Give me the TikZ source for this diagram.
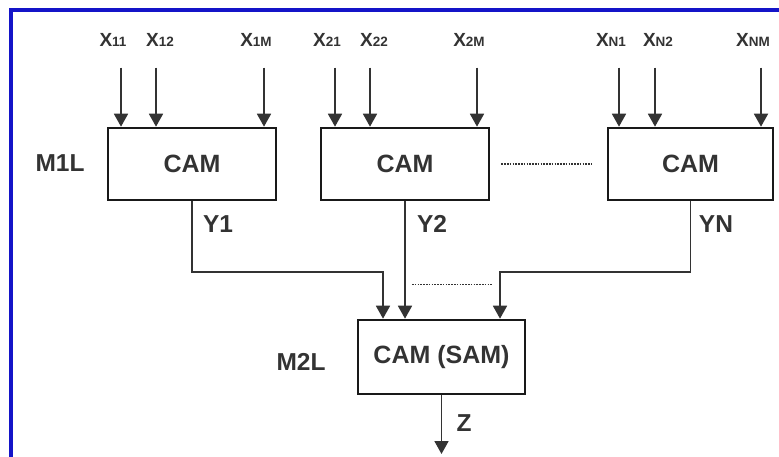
\documentclass[tikz,border=0pt]{standalone}
\usepackage{fontspec}
\setmainfont{Liberation Sans}
\usetikzlibrary{arrows.meta, positioning}

\definecolor{inkgray}{HTML}{333333}
\definecolor{framblue}{HTML}{1414C8}
\newcommand{\xsub}[1]{X{\fontsize{13.5}{13.5}\selectfont #1}}

\begin{document}
\begin{tikzpicture}[x=1pt, y=-1pt,
        cambox/.style={rectangle, draw=black!90, line width=2.6pt, minimum width=168pt, minimum height=72pt, inner sep=0pt, font=\fontsize{25}{25}\selectfont\bfseries, text=inkgray},
        xlab/.style={inner sep=0pt, font=\fontsize{19}{19}\selectfont\bfseries, text=inkgray},
        biglab/.style={inner sep=0pt, font=\fontsize{24.5}{24.5}\selectfont\bfseries, text=inkgray},
        inarrow/.style={draw=inkgray, line width=1.8pt, -{Triangle[width=14pt,length=13pt]}},
        outarrow/.style={draw=inkgray, line width=1.8pt, -{Triangle[width=14pt,length=13pt]}},
        dotline/.style={draw=inkgray, line width=1.4pt, dash pattern=on 1.6pt off 1.2pt}]

      % 1. Frame (cut off at right and bottom)
      \useasboundingbox (0,0) rectangle (779,457);
      \clip (0,0) rectangle (779,457);
      \draw[framblue, line width=3.5pt] (11,10) rectangle (800,480);

      % 2. First level CAM boxes
      \node [cambox] (cam1) at (192,164) {CAM};
      \node [cambox] (cam2) at (405,164) {CAM};
      \node [cambox, minimum width=165pt] (camN) at (690.5,164) {CAM};
      \node [biglab] (m1l) at (60,163) {M1L};

      % 3. Second level box
      \node [cambox, minimum width=167pt, minimum height=74pt] (sam) at (441.5,357) {CAM (SAM)};
      \node [biglab] (m2l) at (301,362) {M2L};

      % 4. Input labels
      \node [xlab] (x11) at (113,40) {\xsub{11}};
      \node [xlab] (x12) at (160,40) {\xsub{12}};
      \node [xlab] (x1m) at (256,40) {\xsub{1M}};
      \node [xlab] (x21) at (327,40) {\xsub{21}};
      \node [xlab] (x22) at (374,40) {\xsub{22}};
      \node [xlab] (x2m) at (469,40) {\xsub{2M}};
      \node [xlab] (xn1) at (611,40) {\xsub{N1}};
      \node [xlab] (xn2) at (658,40) {\xsub{N2}};
      \node [xlab] (xnm) at (753,40) {\xsub{NM}};

      % 5. Input arrows
      \draw [inarrow, shorten <=21pt] ([xshift=8pt]x11.south) -- ([xshift=8pt]x11.south |- cam1.north);
      \draw [inarrow, shorten <=21pt] ([xshift=-4pt]x12.south) -- ([xshift=-4pt]x12.south |- cam1.north);
      \draw [inarrow, shorten <=21pt] ([xshift=8pt]x1m.south) -- ([xshift=8pt]x1m.south |- cam1.north);

      \draw [inarrow, shorten <=21pt] ([xshift=8pt]x21.south) -- ([xshift=8pt]x21.south |- cam2.north);
      \draw [inarrow, shorten <=21pt] ([xshift=-4pt]x22.south) -- ([xshift=-4pt]x22.south |- cam2.north);
      \draw [inarrow, shorten <=21pt] ([xshift=8pt]x2m.south) -- ([xshift=8pt]x2m.south |- cam2.north);

      \draw [inarrow, shorten <=21pt] ([xshift=8pt]xn1.south) -- ([xshift=8pt]xn1.south |- camN.north);
      \draw [inarrow, shorten <=21pt] ([xshift=-3pt]xn2.south) -- ([xshift=-3pt]xn2.south |- camN.north);
      \draw [inarrow, shorten <=21pt] ([xshift=8pt]xnm.south) -- ([xshift=8pt]xnm.south |- camN.north);

      \draw [dotline] ([xshift=11pt]cam2.east) -- ([xshift=-15pt]camN.west);

      % 6. Outputs into second level
      \draw [outarrow] (cam1.south) |- ([xshift=-58.5pt,yshift=47pt]sam.north) -- ([xshift=-58.5pt]sam.north);
      \draw [outarrow] (cam2.south) -- (cam2.south |- sam.north);
      \draw [outarrow] (camN.south) |- ([xshift=58.5pt,yshift=47pt]sam.north) -- ([xshift=58.5pt]sam.north);
      \draw [dotline] ([xshift=-29.5pt,yshift=34pt]sam.north) -- ([xshift=51.5pt,yshift=34pt]sam.north);

      \node [biglab] (y1) at (218,224) {Y1};
      \node [biglab] (y2) at (432,224) {Y2};
      \node [biglab] (yn) at (716,224) {YN};

      % 7. Final output
      \coordinate (zout) at (441.5,454);
      \draw [outarrow] (sam.south) -- (zout);
      \node [biglab] (z) at (464,423) {Z};
    \end{tikzpicture}
\end{document}
